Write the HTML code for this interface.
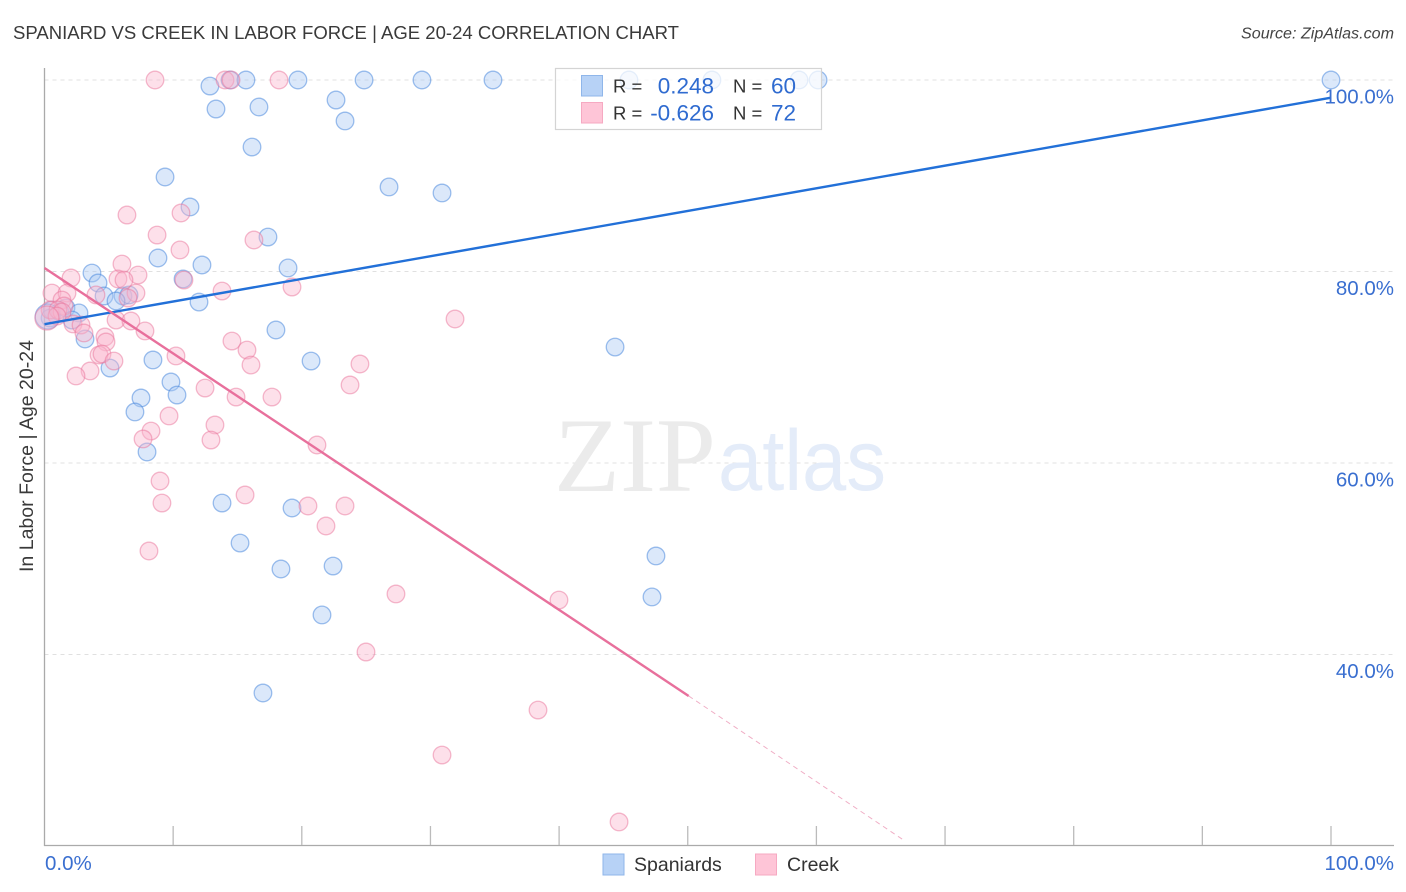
<!DOCTYPE html>
<html>
<head>
<meta charset="utf-8">
<title>Spaniard vs Creek in Labor Force | Age 20-24 Correlation Chart</title>
<style>
html,body{margin:0;padding:0;background:#fff;width:1406px;height:892px;overflow:hidden}
svg{display:block;font-family:"Liberation Sans",sans-serif}
</style>
</head>
<body>
<svg id="chart" width="1406" height="892" viewBox="0 0 1406 892" xmlns="http://www.w3.org/2000/svg">
  <text x="13" y="39" font-size="18.5" fill="#3a3a3a" textLength="666" lengthAdjust="spacingAndGlyphs">SPANIARD VS CREEK IN LABOR FORCE | AGE 20-24 CORRELATION CHART</text>
  <text x="1394" y="38.500" font-size="15.500" font-style="italic" fill="#444" text-anchor="end" textLength="153" lengthAdjust="spacingAndGlyphs">Source: ZipAtlas.com</text>
  <g id="grid"></g>
  <g>
    <text x="554" y="491" font-family="'Liberation Serif',serif" font-size="106" fill="#ebebeb" textLength="162" lengthAdjust="spacingAndGlyphs">ZIP</text>
    <text x="718" y="490" font-size="86" fill="#e4ecf9" textLength="168" lengthAdjust="spacingAndGlyphs">atlas</text>
  </g>
  <g id="axes"></g>
  <g id="points"></g>
  <g id="trends"></g>
  <g id="ticklabels"></g>
  <text transform="translate(33,456) rotate(-90)" font-size="19" fill="#3a3a3a" text-anchor="middle" textLength="232" lengthAdjust="spacingAndGlyphs">In Labor Force | Age 20-24</text>
  <g>
    <rect x="555.500" y="68.500" width="266" height="61" fill="#fff" fill-opacity="0.74" stroke="#d4d4d4" stroke-width="1.200"></rect>
    <rect x="581.500" y="75.500" width="21" height="20.500" fill="#b7d2f6" stroke="#8fb6ea"></rect>
    <rect x="581.500" y="102.500" width="21" height="20.500" fill="#fec5d7" stroke="#f6a9c2"></rect>
    <g font-size="18.500" fill="#333">
      <text x="613" y="92.500">R =</text>
      <text x="613" y="119.500">R =</text>
      <text x="733" y="92.500">N =</text>
      <text x="733" y="119.500">N =</text>
    </g>
    <g font-size="22.500" fill="#2f6bd0" text-anchor="end">
      <text x="714" y="93.500">0.248</text>
      <text x="714" y="120.500">-0.626</text>
      <text x="796" y="93.500">60</text>
      <text x="796" y="120.500">72</text>
    </g>
  </g>
  <g>
    <rect x="603" y="854" width="21" height="21" fill="#b7d2f6" stroke="#8fb6ea"></rect>
    <text x="634" y="871" font-size="19.500" fill="#333">Spaniards</text>
    <rect x="755.500" y="854" width="21" height="21" fill="#fec5d7" stroke="#f6a9c2"></rect>
    <text x="787" y="871" font-size="19.500" fill="#333">Creek</text>
  </g>
</svg>
<script>
const yTickValues = [100, 80, 60, 40];
const yTickLabels = ["100.0%", "80.0%", "60.0%", "40.0%"];
const xTickValues = [10, 20, 30, 40, 50, 60, 70, 80, 90, 100];
const xEndLabels = ["0.0%", "100.0%"];

const spaniardX = [100,12.86,13.33,14.42,15.66,19.7,24.84,29.34,34.86,45.43,51.88,58.65,60.13,
  16.67,22.66,23.36,16.13,9.37,26.78,30.9,11.31,17.37,8.82,12.24,18.93,3.69,4.16,10.77,4.63,6.1,6.57,5.56,12.01,
  17.99,20.72,44.35,3.15,5.09,8.43,9.83,10.3,7.5,7.03,7.97,13.8,19.24,15.2,47.53,18.38,22.43,47.22,21.57,16.98,
  0.58,0.43,1.2,1.67,2.68,2.14];
const spaniardY = [100,99.37,96.97,100,100,100,100,100,100,100,100,100,100,
  97.18,97.91,95.72,93,89.87,88.83,88.2,86.74,83.6,81.41,80.68,80.37,79.84,78.8,79.22,77.44,77.44,77.55,76.92,76.81,
  73.89,70.65,72.11,72.95,69.92,70.76,68.46,67.1,66.79,65.33,61.15,55.82,55.3,51.64,50.29,48.93,49.24,46.01,44.13,35.98,
  75.98,75.14,75.77,76.19,75.67,74.93];
const spaniardHeavyX = [0.25];
const spaniardHeavyY = [75.3];

const creekX = [8.59,14.03,14.5,18.23,6.41,10.61,8.75,16.28,10.53,6.02,7.27,5.71,6.18,2.06,10.84,19.24,13.8,0.58,1.75,1.36,4,7.11,6.49,1.52,31.91,5.56,6.72,2.22,2.84,3.07,7.81,4.7,4.78,14.57,15.74,4.24,4.47,5.4,10.22,16.05,24.52,3.54,2.45,23.75,12.48,14.89,17.68,9.68,13.25,8.28,7.66,12.94,21.18,8.98,15.59,9.13,20.48,23.36,21.88,8.12,27.32,39.99,24.99,38.36,30.9,44.66,0.43,1.05,1.36,0.97];
const creekY = [100,100,100,100,85.9,86.11,83.81,83.29,82.25,80.78,79.63,79.22,79.11,79.32,79.11,78.38,77.96,77.75,77.75,77.02,77.55,77.75,77.23,76.4,75.04,74.93,74.83,74.52,74.41,73.58,73.79,73.16,72.64,72.74,71.8,71.28,71.38,70.65,71.18,70.23,70.34,69.61,69.09,68.15,67.83,66.89,66.89,64.91,63.97,63.34,62.51,62.4,61.88,58.12,56.66,55.82,55.51,55.51,53.42,50.81,46.32,45.69,40.26,34.2,29.5,22.51,75.98,75.98,75.77,75.35];
const creekHeavyX = [0.19];
const creekHeavyY = [75.14];

const spaniardTrendX = [0, 100];
const spaniardTrendY = [74.5, 98.15];
const creekTrendX = [0, 50.07];
const creekTrendY = [80.37, 35.67];
const creekDashX = [50.07, 66.8];
const creekDashY = [35.67, 20.6];

const xScale = v => 44.5 + v * 12.865;
const yScale = v => 80 + (100 - v) * 9.575;
const NS = "http://www.w3.org/2000/svg";

function make(parent, tag, attrs) {
  const el = document.createElementNS(NS, tag);
  for (const k in attrs) el.setAttribute(k, attrs[k]);
  document.getElementById(parent).appendChild(el);
  return el;
}

yTickValues.forEach((v, i) => {
  const grid = make("grid", "line", {x1: 44.5, x2: 1394, y1: yScale(v), y2: yScale(v), stroke: "#e0e0e0", "stroke-width": 1, "stroke-dasharray": "4 4"});
  
  
  const label = make("ticklabels", "text", {x: 1394, y: yScale(v) + 23.5, "font-size": 20.5, fill: "#3a6fd0", "text-anchor": "end"});
  label.textContent = yTickLabels[i];
  
  
});

const yAxis = make("axes", "line", {x1: 44.5, x2: 44.5, y1: 68, y2: 846, stroke: "#aaa", "stroke-width": 1.3});


const xAxis = make("axes", "line", {x1: 44, x2: 1394, y1: 845.5, y2: 845.5, stroke: "#aaa", "stroke-width": 1.3});



xTickValues.forEach(v => {
  const tick = make("axes", "line", {x1: xScale(v), x2: xScale(v), y1: 826, y2: 845, stroke: "#bbb", "stroke-width": 1.3});
  
  
});

const xLabelStart = make("ticklabels", "text", {x: 45, y: 870, "font-size": 20.5, fill: "#3a6fd0"});
xLabelStart.textContent = xEndLabels[0];


const xLabelEnd = make("ticklabels", "text", {x: 1394, y: 870, "font-size": 20.5, fill: "#3a6fd0", "text-anchor": "end"});
xLabelEnd.textContent = xEndLabels[1];



function drawSeries(xs, ys, r, fill, stroke, name) {
  xs.forEach((x, i) => {
    const dot = make("points", "circle", {cx: xScale(x), cy: yScale(ys[i]), r: r, fill: fill, "fill-opacity": 0.42, stroke: stroke, "stroke-opacity": 0.5, "stroke-width": 1.3});
    
    
  });
}
drawSeries(spaniardX, spaniardY, 8.8, "#a9c9f3", "#3f82db", "spaniard-point");
drawSeries(spaniardHeavyX, spaniardHeavyY, 12.5, "#a9c9f3", "#3f82db", "spaniard-cluster-point");
drawSeries(creekX, creekY, 8.8, "#fbb6cc", "#e9769c", "creek-point");
drawSeries(creekHeavyX, creekHeavyY, 12, "#fbb6cc", "#e9769c", "creek-cluster-point");

const blueTrend = make("trends", "line", {x1: xScale(spaniardTrendX[0]), y1: yScale(spaniardTrendY[0]), x2: xScale(spaniardTrendX[1]), y2: yScale(spaniardTrendY[1]), stroke: "#2270d8", "stroke-width": 2.4});


const pinkTrend = make("trends", "line", {x1: xScale(creekTrendX[0]), y1: yScale(creekTrendY[0]), x2: xScale(creekTrendX[1]), y2: yScale(creekTrendY[1]), stroke: "#e8709c", "stroke-width": 2.4});


const pinkDash = make("trends", "line", {x1: xScale(creekDashX[0]), y1: yScale(creekDashY[0]), x2: xScale(creekDashX[1]), y2: yScale(creekDashY[1]), stroke: "#f0afc6", "stroke-width": 1, "stroke-dasharray": "5 4"});


</script>
</body>
</html>
